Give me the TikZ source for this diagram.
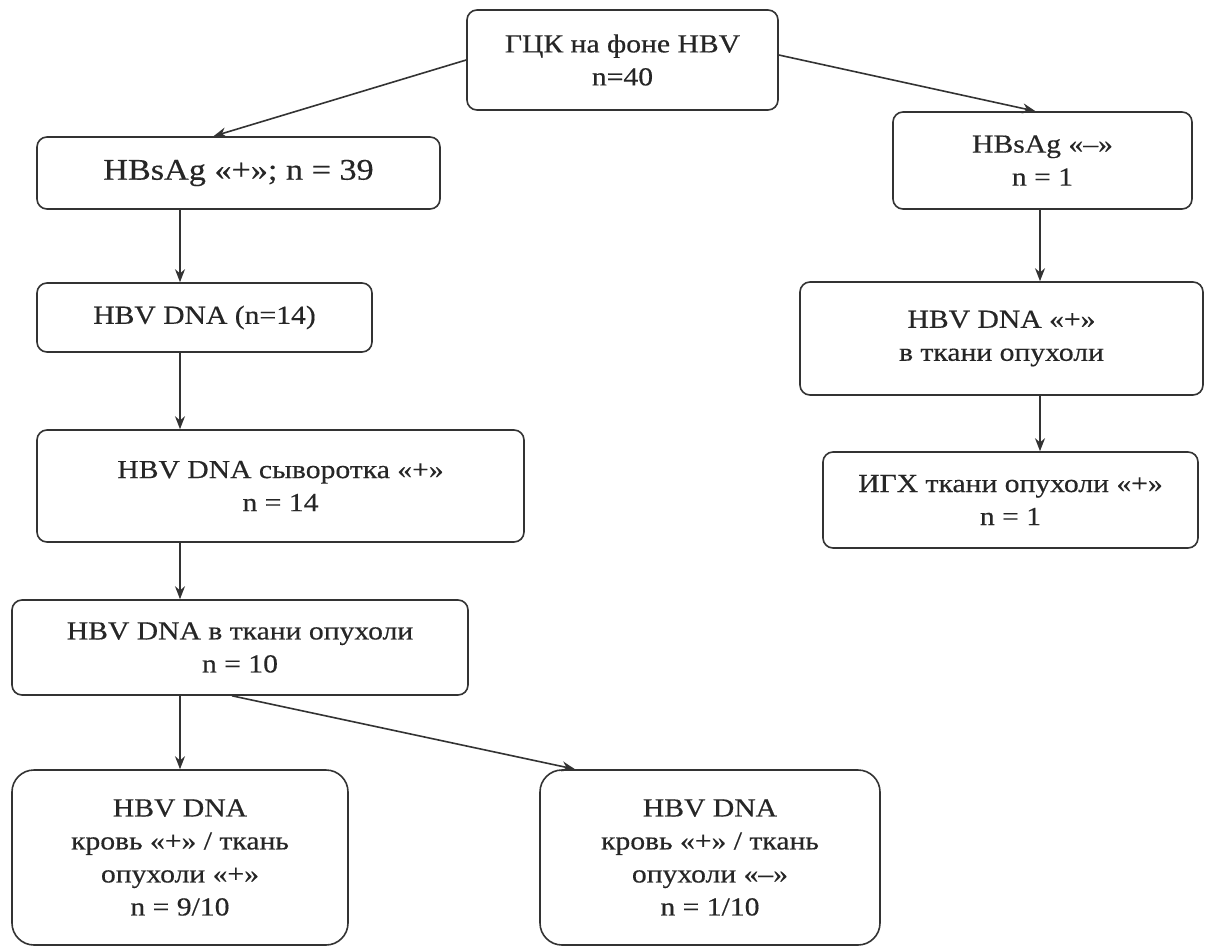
\documentclass[tikz,border=0pt]{standalone}
\usepackage{fontspec}
\setmainfont[FakeStretch=1.14,FakeBold=0.4]{Liberation Serif}
\usetikzlibrary{arrows.meta,calc}
\begin{document}
\begin{tikzpicture}[x=1pt,y=-1pt,
  box/.style={draw=black!80,line width=1.6pt,rounded corners=10pt,align=center,
    inner sep=0pt,font=\fontsize{26}{33}\selectfont,text=black!85},
  arr/.style={draw=black!80,line width=1.6pt,-{Stealth[length=13pt,width=10pt]}}]
\useasboundingbox (0,0) rectangle (1216,950);
\fill[white] (0,0) rectangle (1216,950);
\coordinate (colL) at (180,0);
\coordinate (colR) at (1040,0);
\node[box,minimum width=311pt,minimum height=100pt] (top) at (622.5,60) {ГЦК на фоне HBV\\n=40};
\node[box,minimum width=403pt,minimum height=72pt,font=\fontsize{30}{33}\selectfont] (hbp) at (238.5,173) {HBsAg «+»; n = 39};
\node[box,minimum width=299pt,minimum height=97pt] (hbm) at (1042.5,160.5) {HBsAg «–»\\n = 1};
\node[box,minimum width=335pt,minimum height=69pt] (dna14) at (204.5,317.5) {HBV DNA (n=14)};
\node[box,minimum width=403pt,minimum height=113pt] (rdna) at (1001.5,338.5) {HBV DNA «+»\\в ткани опухоли};
\node[box,minimum width=375pt,minimum height=96pt] (igx) at (1010.5,500) {ИГХ ткани опухоли «+»\\n = 1};
\node[box,minimum width=487pt,minimum height=112pt] (syv) at (280.5,486) {HBV DNA сыворотка «+»\\n = 14};
\node[box,minimum width=456pt,minimum height=95pt] (tk) at (240,647.5) {HBV DNA в ткани опухоли\\n = 10};
\node[box,minimum width=336pt,minimum height=175pt,rounded corners=22pt] (bl) at (180,857.5) {HBV DNA\\кровь «+» / ткань\\опухоли «+»\\n = 9/10};
\node[box,minimum width=340pt,minimum height=175pt,rounded corners=22pt] (bm) at (710,857.5) {HBV DNA\\кровь «+» / ткань\\опухоли «–»\\n = 1/10};
\draw[arr] (top.west) -- ([xshift=-25pt]hbp.north);
\draw[arr] ([yshift=5pt]top.east) -- ([xshift=-7pt]hbm.north);
\draw[arr] (hbp.south -| colL) -- (dna14.north -| colL);
\draw[arr] (dna14.south -| colL) -- (syv.north -| colL);
\draw[arr] (syv.south -| colL) -- (tk.north -| colL);
\draw[arr] (tk.south -| colL) -- (bl.north -| colL);
\draw[arr] ([xshift=-8pt]tk.south) -- ([xshift=-135pt]bm.north);
\draw[arr] (hbm.south -| colR) -- (rdna.north -| colR);
\draw[arr] (rdna.south -| colR) -- (igx.north -| colR);
\end{tikzpicture}
\end{document}
